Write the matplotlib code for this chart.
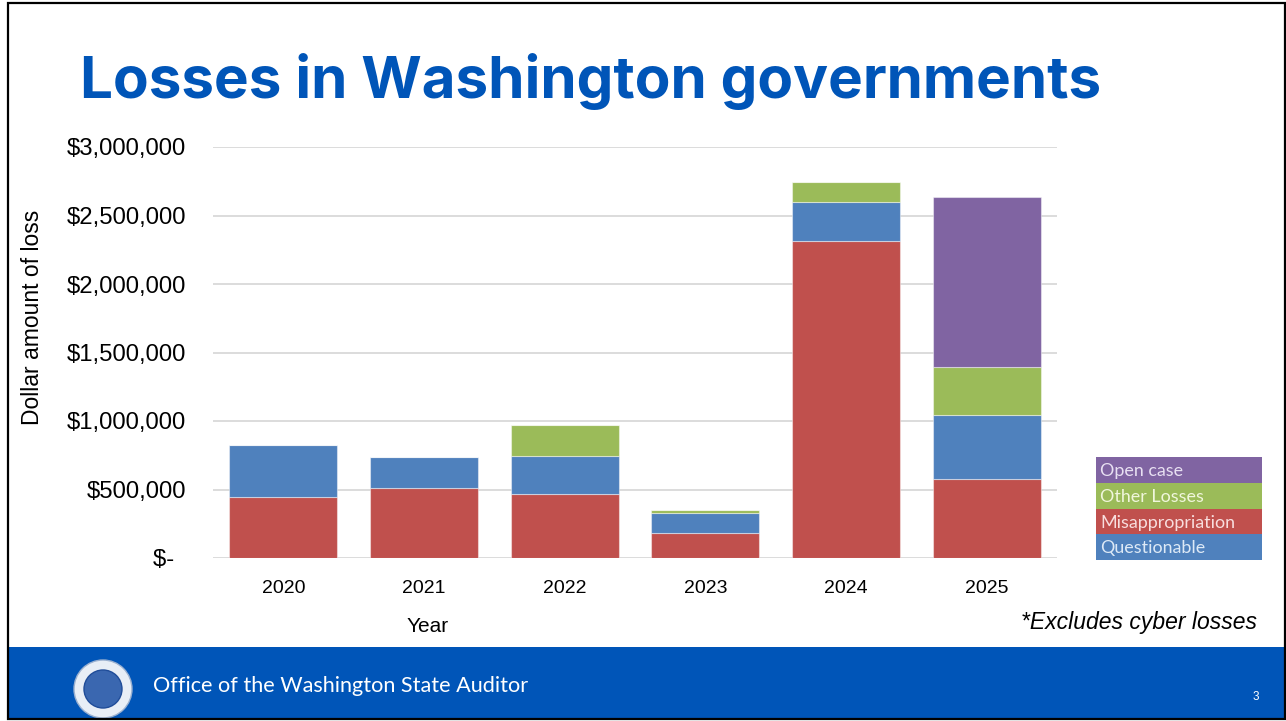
import matplotlib.pyplot as plt
import matplotlib.patches as mpatches
import numpy as np

# Данные по годам (доллары)
years = ['2020', '2021', '2022', '2023', '2024', '2025']
misappropriation = [442000, 512000, 464000, 180000, 2311000, 580000]
questionable = [381000, 224000, 281000, 148000, 284000, 464000]
other_losses = [0, 0, 229000, 19000, 148000, 347000]
open_case = [0, 0, 0, 0, 0, 1246000]

legend_labels = ['Open case', 'Other Losses', 'Misappropriation', 'Questionable']
yticks = [0, 500000, 1000000, 1500000, 2000000, 2500000, 3000000]

RED = '#C0504D'
BLUE = '#4F81BD'
GREEN = '#9BBB59'
PURPLE = '#8064A2'
BRAND = '#0055B8'

W, H = 1286, 721
fig = plt.figure(figsize=(W / 100, H / 100), dpi=100)
fig.patch.set_facecolor('white')


def fx(px):
    return px / W


def fy(py):
    return 1 - py / H


# Оси графика
ax = fig.add_axes([fx(213), fy(558), fx(1057) - fx(213), fy(147) - fy(558)])
x = np.arange(len(years))
bw = 0.77
edge = dict(edgecolor=(1, 1, 1, 0.45), linewidth=0.8)

bottom = np.zeros(len(years))
ax.bar(x, misappropriation, bw, bottom=bottom, color=RED, zorder=3, **edge)
bottom += misappropriation
ax.bar(x, questionable, bw, bottom=bottom, color=BLUE, zorder=3, **edge)
bottom += questionable
ax.bar(x, other_losses, bw, bottom=bottom, color=GREEN, zorder=3, **edge)
bottom += other_losses
ax.bar(x, open_case, bw, bottom=bottom, color=PURPLE, zorder=3, **edge)

ax.set_xlim(-0.5, len(years) - 0.5)
ax.set_ylim(0, 3000000)
ax.set_yticks(yticks)
ax.set_yticklabels(['$-\u2002' if v == 0 else '${:,}'.format(v) for v in yticks],
                   fontsize=17.2, family='Liberation Sans')
ax.set_xticks(x)
ax.set_xticklabels(years, fontsize=14, family='Liberation Sans')
ax.tick_params(axis='both', length=0)
ax.tick_params(axis='y', pad=19.5)
ax.tick_params(axis='x', pad=16)
ax.grid(axis='y', color='#D9D9D9', linewidth=1.3, zorder=0)
for s in ax.spines.values():
    s.set_visible(False)

fig.text(fx(428), fy(627), 'Year', fontsize=15, family='Liberation Sans',
         ha='center', va='center')
fig.text(fx(33), fy(317), 'Dollar amount of loss', fontsize=16.5,
         family='Liberation Sans', rotation=90, ha='center', va='center')

# Заголовок
fig.text(fx(80), fy(98), 'Losses in Washington governments', fontsize=42,
         family='Inter', weight='bold', color=BRAND, ha='left', va='baseline')

fig.text(fx(1257), fy(622), '*Excludes cyber losses', fontsize=16.5,
         family='Liberation Sans', style='italic', ha='right', va='center')

# Легенда из цветных полос
leg_colors = [PURPLE, GREEN, RED, BLUE]
leg_text = ['#E8E0F2', '#F0F6DC', '#F8DEDE', '#DDE9F6']
row_h = 25.7
for i, (lab, c, tc) in enumerate(zip(legend_labels, leg_colors, leg_text)):
    top = 457.3 + i * row_h
    fig.patches.append(mpatches.Rectangle((fx(1096), fy(top + row_h)),
                                          fx(1262) - fx(1096), row_h / H,
                                          transform=fig.transFigure,
                                          facecolor=c, edgecolor='none'))
    fig.text(fx(1100), fy(top + row_h / 2 + 1), lab, fontsize=12.9,
             family='Lato', color=tc, ha='left', va='center')

# Нижняя плашка
fig.patches.append(mpatches.Rectangle((fx(8), fy(719)), fx(1285) - fx(8),
                                      (719 - 647) / H, transform=fig.transFigure,
                                      facecolor=BRAND, edgecolor='none'))
fig.text(fx(153), fy(686), 'Office of the Washington State Auditor',
         fontsize=15.6, family='Lato', color='white', ha='left', va='center')
fig.text(fx(1256), fy(697), '3', fontsize=8.5, family='Liberation Sans',
         color='white', ha='center', va='center')

# Печать аудитора
cx, cy = fx(103), fy(689)
r = 29
fig.patches.append(mpatches.Ellipse((cx, cy), 2 * r / W, 2 * r / H,
                                    transform=fig.transFigure,
                                    facecolor='#E8EEF6', edgecolor='#9AB0D0',
                                    linewidth=1))
fig.patches.append(mpatches.Ellipse((cx, cy), 2 * 19 / W, 2 * 19 / H,
                                    transform=fig.transFigure,
                                    facecolor='#3A67B0', edgecolor='#1F4C99',
                                    linewidth=1))

# Рамка слайда
fig.patches.append(mpatches.Rectangle((fx(8), fy(719)), fx(1285) - fx(8),
                                      (719 - 3) / H, transform=fig.transFigure,
                                      facecolor='none', edgecolor='black',
                                      linewidth=1.6))

plt.savefig('out.png', dpi=100)
